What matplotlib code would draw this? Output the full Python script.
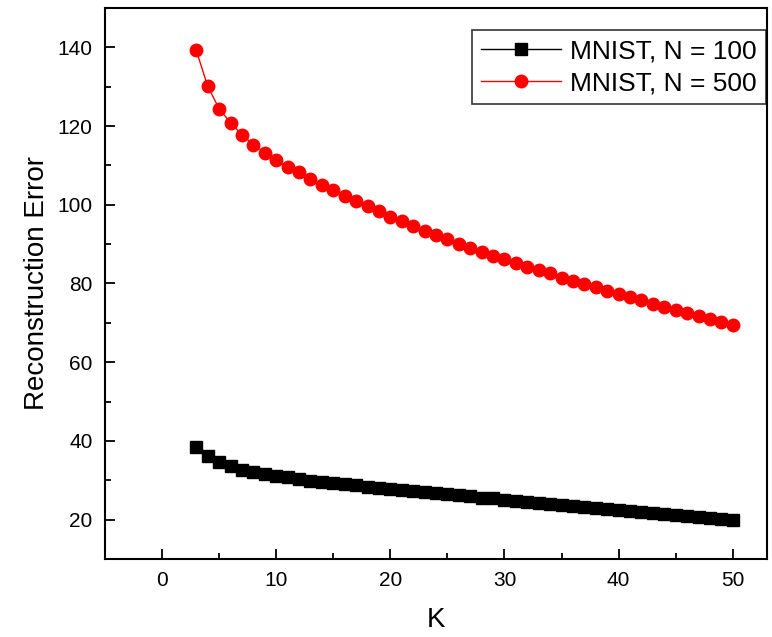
import numpy as np
import matplotlib
matplotlib.use("Agg")
import matplotlib.pyplot as plt
from matplotlib.ticker import MultipleLocator

plt.rcParams["font.family"] = ["Liberation Sans", "DejaVu Sans"]

k_values = list(range(3, 51))

err_n100 = [38.5, 36.2, 34.6, 33.5, 32.7, 32.1, 31.6, 31.1, 30.7, 30.3,
            29.9, 29.6, 29.3, 29.0, 28.7, 28.4, 28.1, 27.8, 27.5, 27.2,
            27.0, 26.7, 26.4, 26.2, 25.9, 25.6, 25.4, 25.1, 24.8, 24.6,
            24.3, 24.0, 23.8, 23.5, 23.2, 23.0, 22.7, 22.5, 22.2, 21.9,
            21.7, 21.4, 21.2, 20.9, 20.7, 20.4, 20.1, 19.8]

err_n500 = [139.2, 130.1, 124.4, 120.8, 117.8, 115.3, 113.2, 111.3, 109.6, 108.2,
            106.6, 105.1, 103.7, 102.3, 100.9, 99.6, 98.3, 97.0, 95.8, 94.6,
            93.4, 92.3, 91.2, 90.1, 89.1, 88.1, 87.1, 86.1, 85.2, 84.3,
            83.4, 82.6, 81.5, 80.6, 79.8, 79.0, 78.1, 77.3, 76.5, 75.7,
            74.9, 74.1, 73.3, 72.5, 71.7, 70.9, 70.2, 69.4]

fig = plt.figure(figsize=(7.72, 6.37), dpi=100)
ax = fig.add_axes([0.136, 0.1225, 0.8575, 0.865])

ax.plot(k_values, err_n100, color="black", marker="s", markersize=8, linewidth=1,
        label="MNIST, N = 100")
ax.plot(k_values, err_n500, color="red", marker="o", markersize=9, linewidth=1,
        label="MNIST, N = 500")

ax.set_xlim(-5, 53)
ax.set_ylim(10, 150)
ax.xaxis.set_major_locator(MultipleLocator(10))
ax.xaxis.set_minor_locator(MultipleLocator(5))
ax.yaxis.set_minor_locator(MultipleLocator(10))
ax.set_yticks([20, 40, 60, 80, 100, 120, 140])
ax.tick_params(which="major", direction="in", length=7, width=1.3, labelsize=15,
               top=False, right=False, pad=9)
ax.tick_params(which="minor", direction="in", length=4, width=1.3,
               top=False, right=False)
for sp in ax.spines.values():
    sp.set_linewidth(1.5)

ax.set_xlabel("K", fontsize=20, labelpad=12)
ax.set_ylabel("Reconstruction Error", fontsize=20, labelpad=5)

leg = ax.legend(loc="upper right", bbox_to_anchor=(0.998, 0.96), fontsize=19,
                fancybox=False, edgecolor="black",
                handlelength=3.0, borderpad=0.35, labelspacing=0.3,
                handletextpad=0.35, borderaxespad=0.0)
leg.get_frame().set_linewidth(1.2)

fig.savefig("out.png", dpi=100)
